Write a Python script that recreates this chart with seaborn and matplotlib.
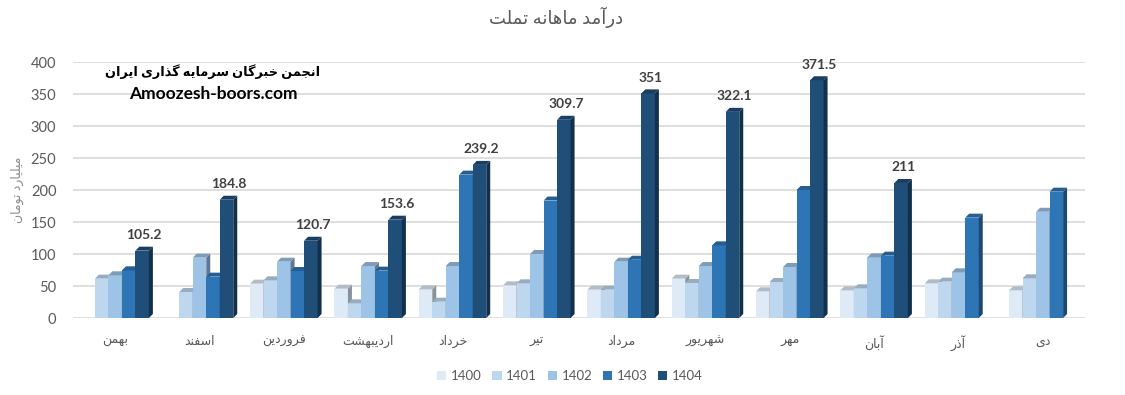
import numpy as np
import pandas as pd
import matplotlib
matplotlib.use("Agg")
import matplotlib.pyplot as plt
from matplotlib.patches import Polygon, Patch
import seaborn as sns

# ---------------- data ----------------
months = ['بهمن', 'اسفند', 'فروردین', 'اردیبهشت', 'خرداد', 'تیر',
          'مرداد', 'شهریور', 'مهر', 'آبان', 'آذر', 'دی']
years = ['1400', '1401', '1402', '1403', '1404']
nan = np.nan
y1400 = [nan, nan, 53.6, 45.8, 44.8, 51.0, 44.3, 61.5, 41.7, 43.2, 54.2, 43.2]
y1401 = [61.5, 40.6, 58.9, 22.9, 25.5, 54.2, 44.3, 54.7, 56.2, 46.4, 56.8, 62.0]
y1402 = [66.7, 94.3, 88.0, 81.2, 81.2, 100.0, 88.0, 81.2, 79.7, 94.8, 71.4, 166.0]
y1403 = [74.5, 64.6, 73.4, 74.0, 224.0, 183.5, 91.0, 113.5, 200.0, 97.4, 156.8, 197.4]
y1404 = [105.2, 184.8, 120.7, 153.6, 239.2, 309.7, 351, 322.1, 371.5, 211, nan, nan]
colors = ['#DEEBF7', '#BDD7EE', '#9DC3E6', '#2E75B6', '#1F4E79']
title_text = 'درآمد ماهانه تملت'
ylabel_text = 'میلیارد تومان'
wm_fa = 'انجمن خبرگان سرمایه گذاری ایران'
wm_en = 'Amoozesh-boors.com'

# ------------- Persian shaping (matplotlib has no RTL/shaping) -------------
FORMS = {
    'ا': ('\uFE8D', '\uFE8E', None, None),
    'آ': ('\uFE81', '\uFE82', None, None),
    'د': ('\uFEA9', '\uFEAA', None, None),
    'ذ': ('\uFEAB', '\uFEAC', None, None),
    'ر': ('\uFEAD', '\uFEAE', None, None),
    'ز': ('\uFEAF', '\uFEB0', None, None),
    'و': ('\uFEED', '\uFEEE', None, None),
    'ب': ('\uFE8F', '\uFE90', '\uFE91', '\uFE92'),
    'ت': ('\uFE95', '\uFE96', '\uFE97', '\uFE98'),
    'ج': ('\uFE9D', '\uFE9E', '\uFE9F', '\uFEA0'),
    'خ': ('\uFEA5', '\uFEA6', '\uFEA7', '\uFEA8'),
    'س': ('\uFEB1', '\uFEB2', '\uFEB3', '\uFEB4'),
    'ش': ('\uFEB5', '\uFEB6', '\uFEB7', '\uFEB8'),
    'ف': ('\uFED1', '\uFED2', '\uFED3', '\uFED4'),
    'ل': ('\uFEDD', '\uFEDE', '\uFEDF', '\uFEE0'),
    'م': ('\uFEE1', '\uFEE2', '\uFEE3', '\uFEE4'),
    'ن': ('\uFEE5', '\uFEE6', '\uFEE7', '\uFEE8'),
    'ه': ('\uFEE9', '\uFEEA', '\uFEEB', '\uFEEC'),
    'ی': ('\uFBFC', '\uFBFD', '\uFBFE', '\uFBFF'),
    'گ': ('\uFB92', '\uFB93', '\uFB94', '\uFB95'),
}


def fa(s):
    out = []
    for i, c in enumerate(s):
        if c not in FORMS:
            out.append(c)
            continue
        prev = s[i - 1] if i > 0 else None
        nxt = s[i + 1] if i + 1 < len(s) else None
        jp = prev in FORMS and FORMS[prev][2] is not None
        jn = nxt in FORMS and FORMS[c][2] is not None
        iso, fin, ini, med = FORMS[c]
        if jp and jn:
            out.append(med)
        elif jp:
            out.append(fin)
        elif jn:
            out.append(ini)
        else:
            out.append(iso)
    return ''.join(reversed(out))


# ---------------- frame ----------------
df = pd.DataFrame({'month': months, '1400': y1400, '1401': y1401,
                   '1402': y1402, '1403': y1403, '1404': y1404})
long = df.melt(id_vars='month', var_name='year', value_name='value')

sns.set_theme(style='white')
plt.rcParams['font.family'] = ['Lato', 'DejaVu Sans']

W, H = 1125, 395
fig = plt.figure(figsize=(W / 100, H / 100), dpi=100)
ax_l, ax_b, ax_w, ax_h = 73 / W, 1 - 318 / H, 1012 / W, 256 / H
ax = fig.add_axes([ax_l, ax_b, ax_w, ax_h])

sns.barplot(data=long, x='month', y='value', hue='year', order=months,
            hue_order=years, palette=colors, saturation=1, width=0.8,
            edgecolor='none', linewidth=0, ax=ax, legend=False, errorbar=None)

ax.set_xlim(-0.5, len(months) - 0.5)
ax.set_ylim(0, 400)
ax.set_yticks(np.arange(0, 401, 50))
ax.yaxis.grid(True, color='#D9D9D9', lw=1.2)
ax.xaxis.grid(False)
ax.set_axisbelow(True)
for s in ax.spines.values():
    s.set_visible(False)
ax.tick_params(axis='y', length=0, pad=12, labelsize=10.5, labelcolor='#595959')
ax.tick_params(axis='x', length=0, pad=12, labelsize=9, labelcolor='#595959')
ax.set_xticks(range(len(months)))
ax.set_xticklabels([fa(m) for m in months])
ax.set_xlabel('')
ax.set_ylabel('')

# ---------------- pseudo-3D faces derived from the bar patches ----------------
depth = 4.0
dx = depth / (ax_w * W / (len(months)))
dy = depth / (ax_h * H / 400)


def shade(c, f):
    r, g, b = matplotlib.colors.to_rgb(c)
    return (r * f, g * f, b * f)


patches = [p for p in ax.patches if np.isfinite(p.get_height()) and p.get_height() > 0]
patches.sort(key=lambda p: p.get_x())
for i, p in enumerate(patches):
    z = 2 + i * 0.01
    x0, w, h = p.get_x(), p.get_width(), p.get_height()
    x1 = x0 + w
    fc = p.get_facecolor()
    p.set_zorder(z)
    side = Polygon([(x1, 0), (x1 + dx, dy), (x1 + dx, h + dy), (x1, h)],
                   closed=True, facecolor=shade(fc, 0.62), edgecolor='none', zorder=z + 0.001)
    top = Polygon([(x0, h), (x0 + dx, h + dy), (x1 + dx, h + dy), (x1, h)],
                  closed=True, facecolor=shade(fc, 0.8), edgecolor='none', zorder=z + 0.002)
    ax.add_patch(side)
    ax.add_patch(top)

# data labels on the 1404 series
for i, v in enumerate(y1404):
    if np.isfinite(v):
        xc = i + 0.32 + dx / 2
        ax.annotate(f'{v:g}', (xc, v + dy), xytext=(0, 4), textcoords='offset points',
                    ha='center', va='bottom', fontsize=10, fontweight='bold',
                    color='#404040', zorder=10)

# ---------------- texts ----------------
fig.text(556 / W, 1 - 17 / H, fa(title_text), ha='center', va='center',
         fontsize=13, color='#595959')
fig.text(17 / W, 1 - 190 / H, fa(ylabel_text), ha='center', va='center',
         rotation=90, fontsize=9, color='#8C8C8C')
fig.text(213 / W, 1 - 72 / H, fa(wm_fa), ha='center', va='center',
         fontsize=9.3, fontweight='bold', color='black')
fig.text(213 / W, 1 - 94 / H, wm_en, ha='center', va='center',
         fontsize=12.5, fontweight='bold', color='black')

handles = [Patch(facecolor=c, edgecolor='none') for c in colors]
fig.legend(handles, years, loc='center', bbox_to_anchor=(570 / W, 1 - 376 / H),
           ncol=5, frameon=False, fontsize=9.5, labelcolor='#595959',
           handlelength=0.7, handleheight=0.7, handletextpad=0.35, columnspacing=0.8)

fig.savefig('out.png', dpi=100)
